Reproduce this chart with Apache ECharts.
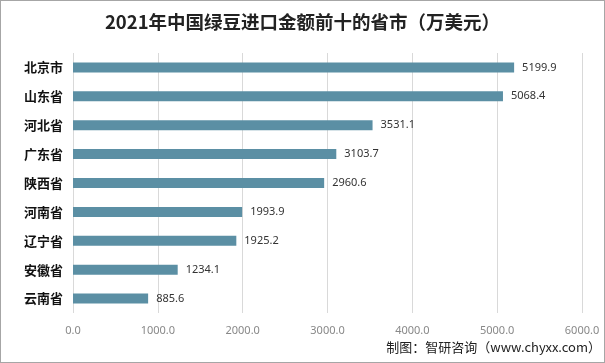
<!DOCTYPE html>
<html><head><meta charset="utf-8">
<script src="https://cdn.jsdelivr.net/npm/echarts@6/dist/echarts.min.js"></script>
<style>html,body{margin:0;padding:0;background:#fff}#c{width:603px;height:361px;border:1px solid #a6a6a6}</style>
</head><body><div id="c"></div>
<script>
var categories = ['北京市','山东省','河北省','广东省','陕西省','河南省','辽宁省','安徽省','云南省'];
var values = [5199.9, 5068.4, 3531.1, 3103.7, 2960.6, 1993.9, 1925.2, 1234.1, 885.6];
var titleText = '2021年中国绿豆进口金额前十的省市（万美元）';
var sourceText = '制图：智研咨询（www.chyxx.com）';
var chart = echarts.init(document.getElementById('c'));
chart.setOption({
  animation: false,
  title: {text: titleText, left: 'center', top: 7,
    textStyle: {fontSize: 18.5, fontWeight: 'bold', color: '#222', fontFamily: 'Noto Sans CJK SC'}},
  graphic: [{type: 'text', right: 3, bottom: 8,
    style: {text: sourceText, fontSize: 13, fill: '#222', fontFamily: 'Noto Sans CJK SC'}}],
  grid: {left: 72, right: 22, top: 52, bottom: 49},
  xAxis: {type: 'value', min: 0, max: 6000, interval: 1000,
    axisLine: {show: false}, axisTick: {show: false},
    splitLine: {lineStyle: {color: '#d9d9d9'}},
    axisLabel: {color: '#888', fontSize: 11, margin: 12, fontFamily: 'Noto Sans',
      formatter: function(v){return v.toFixed(1);}}},
  yAxis: {type: 'category', data: categories, inverse: true,
    axisLine: {show: false}, axisTick: {show: false},
    axisLabel: {color: '#111', fontSize: 13, fontWeight: 'bold', margin: 10, fontFamily: 'Noto Sans CJK SC'}},
  series: [{type: 'bar', data: values, barWidth: 10,
    itemStyle: {color: '#5b8fa4'},
    label: {show: true, position: 'right', distance: 8, color: '#333', fontSize: 11, fontFamily: 'Noto Sans',
      formatter: function(p){return p.value.toFixed(1);}}}]
});
</script></body></html>
